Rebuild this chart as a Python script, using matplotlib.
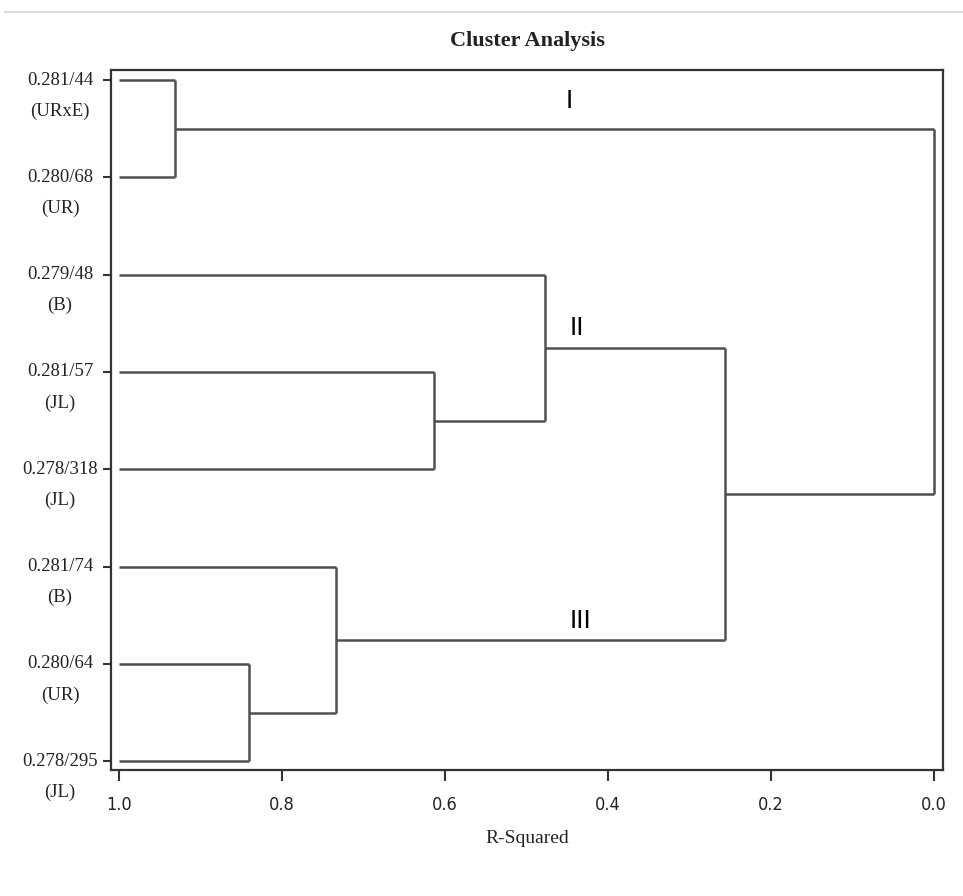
import matplotlib
matplotlib.use("Agg")
import matplotlib.pyplot as plt
import matplotlib.transforms as mtransforms

# ---- data ----
leaf_ids = ["0.281/44", "0.280/68", "0.279/48", "0.281/57",
            "0.278/318", "0.281/74", "0.280/64", "0.278/295"]
leaf_groups = ["(URxE)", "(UR)", "(B)", "(JL)", "(JL)", "(B)", "(UR)", "(JL)"]
# merges: (left node, right node, R-squared); new nodes numbered from 8
merge_left = [0, 3, 2, 6, 5, 10, 8]
merge_right = [1, 4, 9, 7, 11, 12, 13]
merge_rsq = [0.931, 0.613, 0.477, 0.841, 0.734, 0.256, 0.0]
cluster_names = ["I", "II", "III"]
cluster_label_pos = [(0.447, 0.22), (0.438, 2.55), (0.434, 5.56)]
xticks = [1.0, 0.8, 0.6, 0.4, 0.2, 0.0]
xtick_labels = ["1.0", "0.8", "0.6", "0.4", "0.2", "0.0"]

W, H = 963, 896
fig = plt.figure(figsize=(W / 100, H / 100), dpi=100)
ax = fig.add_axes([111 / W, 1 - 770 / H, (943 - 111) / W, (770 - 70) / H])

line_color = "#505050"
n = len(leaf_ids)
ypos = {i: float(i) for i in range(n)}
xpos = {i: 1.0 for i in range(n)}
for k, (a, b, h) in enumerate(zip(merge_left, merge_right, merge_rsq)):
    node = n + k
    ax.plot([xpos[a], h], [ypos[a], ypos[a]], color=line_color, lw=1.8, solid_capstyle="butt")
    ax.plot([xpos[b], h], [ypos[b], ypos[b]], color=line_color, lw=1.8, solid_capstyle="butt")
    ax.plot([h, h], [ypos[a], ypos[b]], color=line_color, lw=1.8, solid_capstyle="butt")
    ypos[node] = (ypos[a] + ypos[b]) / 2
    xpos[node] = h

ax.set_xlim(1.0098, -0.011)
ax.set_ylim(7.09, -0.103)

for sp in ax.spines.values():
    sp.set_color("#333333")
    sp.set_linewidth(1.6)

ax.set_xticks(xticks)
ax.set_xticklabels(xtick_labels, family="DejaVu Sans", stretch="condensed",
                   fontsize=13, color="#222222")
ax.tick_params(axis="x", direction="out", length=8, width=1.5, color="#333333", pad=11)
ax.set_yticks(range(n))
ax.set_yticklabels([""] * n)
ax.tick_params(axis="y", direction="out", length=6, width=1.5, color="#333333")

trans = mtransforms.blended_transform_factory(fig.transFigure, ax.transData)
off = mtransforms.ScaledTranslation(0, -31 / 100, fig.dpi_scale_trans)
for i in range(n):
    ax.text(60 / W, i, leaf_ids[i], transform=trans, ha="center", va="center",
            family="Liberation Serif", fontsize=13.5, color="#222222")
    ax.text(60 / W, i, leaf_groups[i], transform=trans + off, ha="center", va="center",
            family="Liberation Serif", fontsize=13.5, color="#222222")

for name, (x, y) in zip(cluster_names, cluster_label_pos):
    ax.text(x, y, name, ha="center", va="center", family="Liberation Sans",
            fontsize=19, color="black")

fig.text(527 / W, 1 - 41 / H, "Cluster Analysis", ha="center", va="center",
         family="Liberation Serif", fontweight="bold", fontsize=16, color="#222222")
fig.text(527 / W, 1 - 838 / H, "R-Squared", ha="center", va="center",
         family="Liberation Serif", fontsize=14, color="#222222")

# faint rule at top of image
fig.add_artist(plt.Line2D([5 / W, 1.0], [1 - 12 / H, 1 - 12 / H], transform=fig.transFigure,
                          color="#dddddd", lw=1.5))

fig.savefig("out.png", dpi=100)
